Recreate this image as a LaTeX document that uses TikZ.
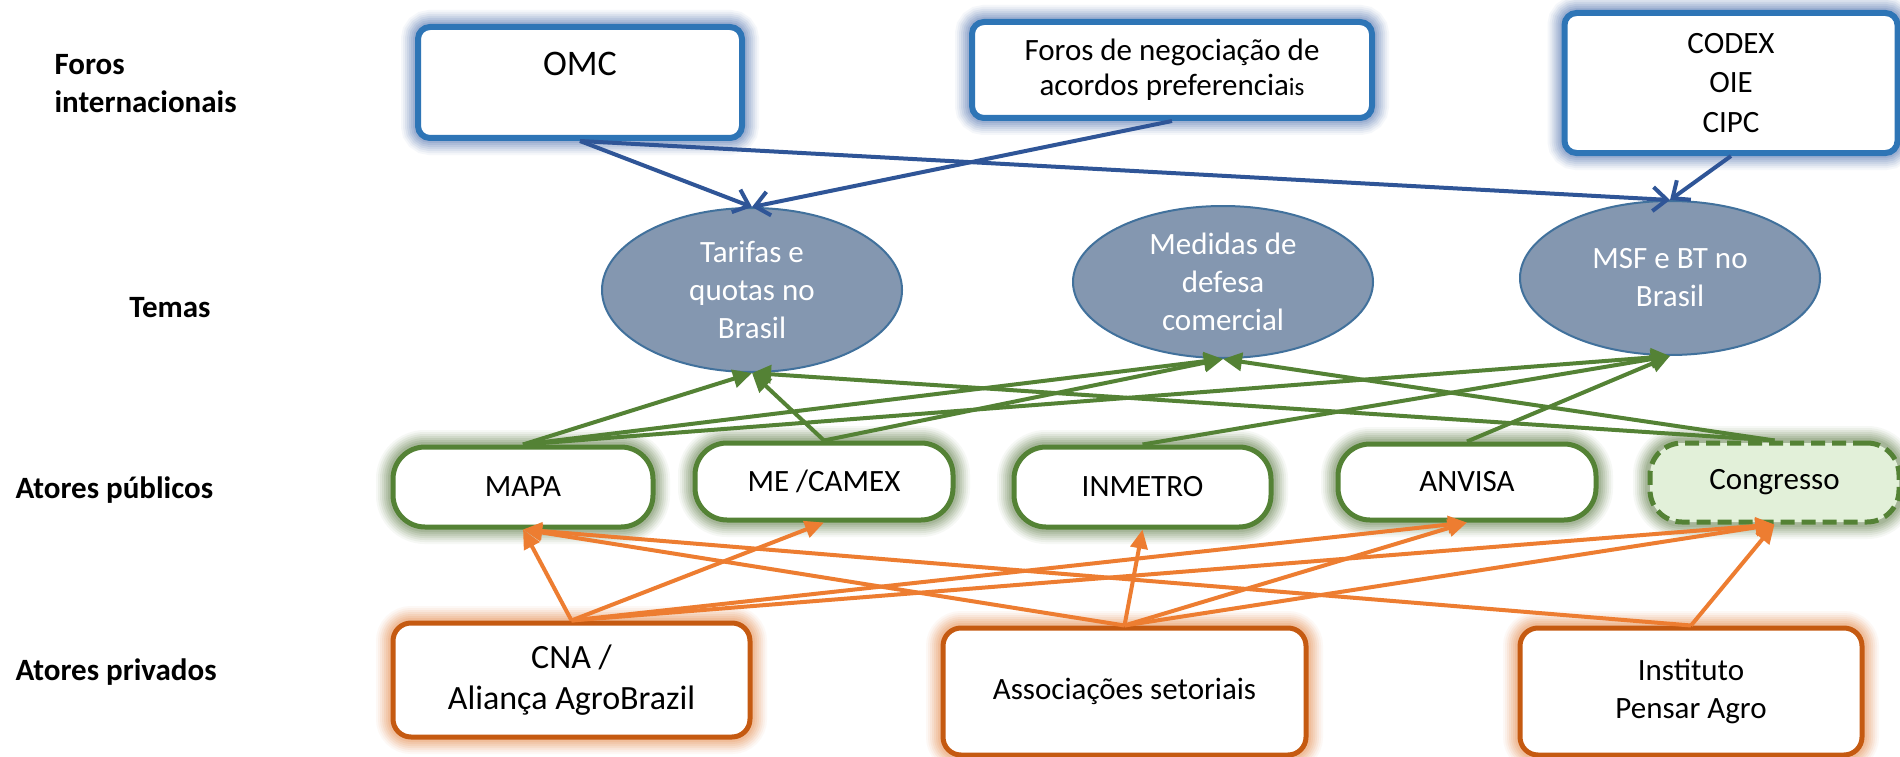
\documentclass[tikz,border=0pt]{standalone}
\usepackage{fontspec}
\setmainfont{Carlito}
\usetikzlibrary{arrows.meta,shapes.geometric}
\definecolor{bbox}{HTML}{2E75B6}
\definecolor{bglow}{HTML}{5F7FB8}
\definecolor{barrow}{HTML}{2F5597}
\definecolor{efill}{HTML}{8497B0}
\definecolor{eline}{HTML}{41719C}
\definecolor{gline}{HTML}{548235}
\definecolor{gglow}{HTML}{6E8A5A}
\definecolor{cfill}{HTML}{E2F0D9}
\definecolor{obox}{HTML}{C55A11}
\definecolor{oglow}{HTML}{E8965E}
\definecolor{oarrow}{HTML}{ED7D31}
\tikzset{
  glow/.style={
    preaction={draw=#1, solid, line width=34pt, opacity=0.06},
    preaction={draw=#1, solid, line width=30pt, opacity=0.08},
    preaction={draw=#1, solid, line width=26pt, opacity=0.10},
    preaction={draw=#1, solid, line width=22pt, opacity=0.12},
    preaction={draw=#1, solid, line width=18pt, opacity=0.14},
    preaction={draw=#1, solid, line width=14pt, opacity=0.16},
    preaction={draw=#1, solid, line width=10pt, opacity=0.20}},
  txt/.style={font=\fontsize{31}{38}\selectfont},
  lab/.style={font=\fontsize{31}{38}\selectfont\bfseries},
  bluebox/.style={glow=bglow, draw=bbox, line width=6pt, fill=white,
    rounded corners=12pt, inner sep=0pt, align=center, txt},
  theme/.style={ellipse, draw=eline, line width=2pt, fill=efill,
    text=white, inner sep=0pt, align=center, txt},
  pubbox/.style={glow=gglow, draw=gline, line width=5pt, fill=white,
    rounded corners=32pt, inner sep=0pt, align=center, txt},
  privbox/.style={glow=oglow, draw=obox, line width=5pt, fill=white,
    rounded corners=18pt, inner sep=0pt, align=center, txt},
  barr/.style={draw=barrow, line width=4pt, -{Straight Barb[length=14pt, width=24pt, line width=4pt]}},
  garr/.style={draw=gline, line width=4pt, -{Triangle[length=19pt, width=18pt]}},
  oarr/.style={draw=oarrow, line width=4pt, -{Triangle[length=19pt, width=17pt]}},
}
\begin{document}
\begin{tikzpicture}[x=1pt, y=-1pt]
\useasboundingbox[fill=white] (0,0) rectangle (1900,757);

% row labels
\node[lab, anchor=west, align=left] (lforos) at (51,84) {Foros\\internacionais};
\node[lab, anchor=base] (ltemas) at (170,317) {Temas};
\node[lab, anchor=base west] (lpub) at (12,498) {Atores públicos};
\node[lab, anchor=base west] (lpriv) at (12,680) {Atores privados};

% international fora
\node[bluebox, minimum width=324pt, minimum height=111pt] (omc) at (580,82.5)
  {\fontsize{36}{38}\selectfont OMC\\\mbox{}};
\node[bluebox, minimum width=400pt, minimum height=96pt, font=\fontsize{31}{35}\selectfont] (foros) at (1172,70)
  {Foros de negociação de\\acordos preferencia{\fontsize{25}{35}\selectfont is}};
\node[bluebox, minimum width=333pt, minimum height=140pt, font=\fontsize{31}{39.5}\selectfont] (codex) at (1731,83)
  {CODEX\\OIE\\CIPC};

% themes
\node[theme, minimum width=300pt, minimum height=164pt] (tar) at (752,290) {Tarifas e\\quotas no\\Brasil};
\node[theme, minimum width=300pt, minimum height=152pt] (med) at (1223,282) {Medidas de\\defesa\\comercial};
\node[theme, minimum width=300pt, minimum height=154pt] (msf) at (1670,278) {MSF e BT no\\Brasil};

% public actors
\node[pubbox, minimum width=260pt, minimum height=80pt] (mapa) at (523,487) {MAPA};
\node[pubbox, minimum width=258pt, minimum height=77pt] (camex) at (824,481.5) {ME /CAMEX};
\node[pubbox, minimum width=257pt, minimum height=80pt] (inmetro) at (1142.5,487) {INMETRO};
\node[pubbox, minimum width=258pt, minimum height=76pt] (anvisa) at (1467,482) {ANVISA};
\node[pubbox, fill=cfill, dash pattern=on 14pt off 7pt, minimum width=249pt, minimum height=79pt] (congresso) at (1774.5,482.5) {Congresso};

% private actors
\node[privbox, minimum width=357pt, minimum height=114pt, font=\fontsize{34}{41}\selectfont] (cna) at (571.5,680) {CNA /\\Aliança AgroBrazil};
\node[privbox, minimum width=363pt, minimum height=127pt] (assoc) at (1124.5,691.5) {Associações setoriais};
\node[privbox, minimum width=342pt, minimum height=127pt] (inst) at (1691,691.5) {Instituto\\Pensar Agro};

% blue connectors
\draw[barr] (omc.south) -- (tar.north);
\draw[barr] (omc.south) -- (msf.north);
\draw[barr] (foros.south) -- (tar.north);
\draw[barr] (codex.south) -- (msf.north);

% green connectors
\draw[garr] (mapa.north) -- (tar.south);
\draw[garr] (mapa.north) -- (med.south);
\draw[garr] (mapa.north) -- (msf.south);
\draw[garr] (camex.north) -- (tar.south);
\draw[garr] (camex.north) -- (med.south);
\draw[garr] (inmetro.north) -- (msf.south);
\draw[garr] (anvisa.north) -- (msf.south);
\draw[garr] (congresso.north) -- (tar.south);
\draw[garr] (congresso.north) -- (med.south);

% orange connectors
\draw[oarr] (cna.north) -- (mapa.south);
\draw[oarr] (cna.north) -- (camex.south);
\draw[oarr] (cna.north) -- (anvisa.south);
\draw[oarr] (cna.north) -- (congresso.south);
\draw[oarr] (assoc.north) -- (mapa.south);
\draw[oarr] (assoc.north) -- (inmetro.south);
\draw[oarr] (assoc.north) -- (anvisa.south);
\draw[oarr] (assoc.north) -- (congresso.south);
\draw[oarr] (inst.north) -- (mapa.south);
\draw[oarr] (inst.north) -- (congresso.south);
\end{tikzpicture}
\end{document}
